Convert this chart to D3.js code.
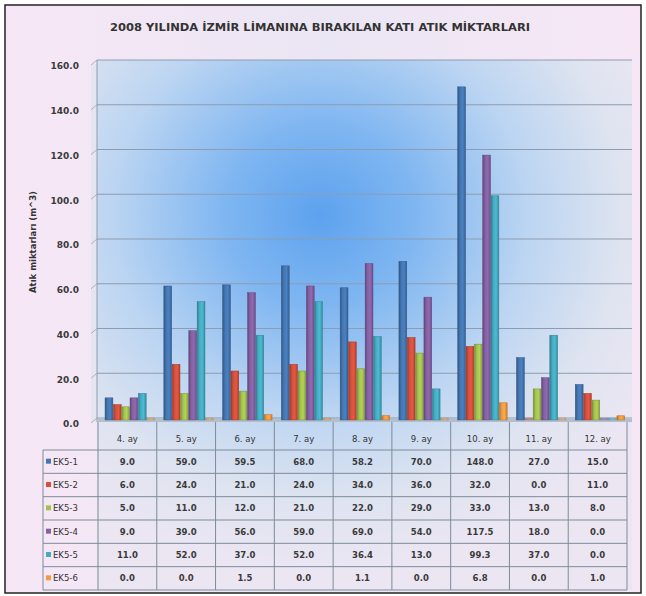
<!DOCTYPE html>
<html>
<head>
<meta charset="utf-8">
<script src="https://cdn.jsdelivr.net/npm/d3@7"></script>
<style>
  body { margin: 0; background: #fff; }
  text { font-family: 'DejaVu Sans', sans-serif; }
</style>
</head>
<body>
<svg id="chart" width="646" height="596"></svg>
<script>
const categories = ['4. ay', '5. ay', '6. ay', '7. ay', '8. ay', '9. ay', '10. ay', '11. ay', '12. ay']
const seriesNames = ['EK5-1', 'EK5-2', 'EK5-3', 'EK5-4', 'EK5-5', 'EK5-6']
const seriesColors = ['#4476b2', '#d4503c', '#a4c150', '#8560a3', '#45abc2', '#f39a42']

const ek51 = [9.0, 59.0, 59.5, 68.0, 58.2, 70.0, 148.0, 27.0, 15.0]
const ek52 = [6.0, 24.0, 21.0, 24.0, 34.0, 36.0, 32.0, 0.0, 11.0]
const ek53 = [5.0, 11.0, 12.0, 21.0, 22.0, 29.0, 33.0, 13.0, 8.0]
const ek54 = [9.0, 39.0, 56.0, 59.0, 69.0, 54.0, 117.5, 18.0, 0.0]
const ek55 = [11.0, 52.0, 37.0, 52.0, 36.4, 13.0, 99.3, 37.0, 0.0]
const ek56 = [0.0, 0.0, 1.5, 0.0, 1.1, 0.0, 6.8, 0.0, 1.0]
const seriesValues = [ek51, ek52, ek53, ek54, ek55, ek56]

const yTicks = [0, 20, 40, 60, 80, 100, 120, 140, 160]

const svg = d3.select('#chart')
const defs = svg.append('defs')
const fmt = d3.format('.1f')

// chart area background
const bgGrad = defs.append('linearGradient').attr('id', 'bg')
  .attr('x1', 0).attr('x2', 1).attr('y1', 0).attr('y2', 0)
bgGrad.append('stop').attr('offset', 0).attr('stop-color', '#f7e7f6')
bgGrad.append('stop').attr('offset', 0.5).attr('stop-color', '#ebe6f4')
bgGrad.append('stop').attr('offset', 1).attr('stop-color', '#f7e7f6')

const plotGrad = defs.append('radialGradient').attr('id', 'plotbg')
  .attr('gradientUnits', 'userSpaceOnUse')
  .attr('cx', 320).attr('cy', 215).attr('r', 380)
  .attr('gradientTransform', 'translate(320,215) scale(1,0.95) translate(-320,-215)')
plotGrad.append('stop').attr('offset', 0).attr('stop-color', '#5da2ee')
plotGrad.append('stop').attr('offset', 0.25).attr('stop-color', '#7fb6f1')
plotGrad.append('stop').attr('offset', 0.55).attr('stop-color', '#bcd5f2')
plotGrad.append('stop').attr('offset', 0.8).attr('stop-color', '#dfe4f0')
plotGrad.append('stop').attr('offset', 1).attr('stop-color', '#ece6f3')

svg.append('rect')
  .attr('x', 5).attr('y', 5).attr('width', 636).attr('height', 588)
  .attr('fill', 'url(#bg)')
  .attr('stroke', '#222').attr('stroke-width', 1.5)

const plotLeft = 97
const plotRight = 632
const plotTop = 60
const floorY = 420

const x0 = d3.scaleBand().domain(categories).range([98, 627])
const x1 = d3.scaleBand().domain(seriesNames)
  .range([x0.bandwidth() * 0.12, x0.bandwidth() * 0.97])
const y = d3.scaleLinear().domain([0, 160]).range([418, 60])

// plot wall + table background
svg.append('rect')
  .attr('x', plotLeft).attr('y', plotTop).attr('width', plotRight - plotLeft).attr('height', 530)
  .attr('fill', 'url(#plotbg)')

// left wall
svg.append('rect')
  .attr('x', 91).attr('y', plotTop + 4).attr('width', 6).attr('height', floorY - plotTop - 2)
  .attr('fill', '#dde4f0').attr('opacity', 0.7)

// gridlines
const grid = svg.append('g').attr('class', 'grid')
grid.selectAll('line.h')
  .data(yTicks)
  .enter()
  .append('line')
  .attr('class', 'h')
  .attr('x1', plotLeft).attr('x2', plotRight)
  .attr('y1', d => y(d)).attr('y2', d => y(d))
  .attr('stroke', '#8e9cb0').attr('stroke-width', 1)
grid.selectAll('line.s')
  .data(yTicks)
  .enter()
  .append('line')
  .attr('class', 's')
  .attr('x1', 91).attr('x2', plotLeft)
  .attr('y1', d => y(d) + 5).attr('y2', d => y(d))
  .attr('stroke', '#a8b4c4').attr('stroke-width', 1)

svg.append('line')
  .attr('x1', plotLeft).attr('x2', plotLeft).attr('y1', plotTop).attr('y2', floorY + 2)
  .attr('stroke', '#8e9cb0')

// floor
svg.append('rect')
  .attr('x', plotLeft).attr('y', floorY - 1).attr('width', plotRight - plotLeft).attr('height', 3)
  .attr('fill', '#b4bfcc')

// y axis labels
const yAxis = d3.axisLeft(y).tickValues(yTicks).tickFormat(fmt).tickSize(0).tickPadding(0)
const yg = svg.append('g')
  .attr('transform', 'translate(79,6)')
  .call(yAxis)
yg.select('.domain').remove()
yg.selectAll('text')
  .attr('font-family', 'DejaVu Sans, sans-serif')
  .attr('font-size', 9)
  .attr('font-weight', 'bold')
  .attr('fill', '#3a3a3a')

svg.append('text')
  .attr('transform', 'translate(36,242) rotate(-90)')
  .attr('text-anchor', 'middle')
  .attr('font-size', 8.5)
  .attr('font-weight', 'bold')
  .attr('fill', '#333')
  .text('Atık miktarları (m^3)')

// title
svg.append('text')
  .attr('x', 320).attr('y', 31)
  .attr('text-anchor', 'middle')
  .attr('font-size', 10.5)
  .attr('font-weight', 'bold')
  .attr('fill', '#333')
  .attr('textLength', 420)
  .attr('lengthAdjust', 'spacingAndGlyphs')
  .text('2008 YILINDA İZMİR LİMANINA BIRAKILAN KATI ATIK MİKTARLARI')

// bar gradients
seriesNames.forEach(function (name, i) {
  const c = d3.color(seriesColors[i])
  const g = defs.append('linearGradient').attr('id', 'bar' + i)
    .attr('x1', 0).attr('x2', 1).attr('y1', 0).attr('y2', 0)
  g.append('stop').attr('offset', 0).attr('stop-color', c.darker(0.9))
  g.append('stop').attr('offset', 0.3).attr('stop-color', c)
  g.append('stop').attr('offset', 0.65).attr('stop-color', c.brighter(0.25))
  g.append('stop').attr('offset', 1).attr('stop-color', c.darker(0.6))
})

// bars
const barData = []
seriesNames.forEach(function (name, i) {
  categories.forEach(function (cat, j) {
    barData.push({ series: name, idx: i, cat: cat, value: seriesValues[i][j] })
  })
})

svg.append('g').attr('class', 'bars')
  .selectAll('rect')
  .data(barData)
  .enter()
  .append('rect')
  .attr('x', d => x0(d.cat) + x1(d.series))
  .attr('width', x1.bandwidth() - 0.5)
  .attr('y', d => Math.min(y(d.value), floorY - 1.5))
  .attr('height', d => Math.max(floorY - y(d.value), 1.5))
  .attr('fill', d => 'url(#bar' + d.idx + ')')
  .attr('stroke', d => d3.color(seriesColors[d.idx]).darker(0.8))
  .attr('stroke-width', 0.5)
  .attr('opacity', d => d.value === 0 ? 0.5 : 1)

// data table
const tableTop = 425
const headerBottom = 450
const tableBottom = 590
const rowY = d3.scaleBand().domain(seriesNames).range([headerBottom, tableBottom])
const table = svg.append('g').attr('class', 'table')
const lineColor = '#7f8b99'

// horizontal lines
table.selectAll('line.row')
  .data(seriesNames.concat(['end']))
  .enter()
  .append('line')
  .attr('class', 'row')
  .attr('x1', 43).attr('x2', 627)
  .attr('y1', d => d === 'end' ? tableBottom : rowY(d))
  .attr('y2', d => d === 'end' ? tableBottom : rowY(d))
  .attr('stroke', lineColor)

// vertical lines
const colEdges = categories.map(c => x0(c)).concat([x0.range()[1]])
table.selectAll('line.col')
  .data(colEdges)
  .enter()
  .append('line')
  .attr('class', 'col')
  .attr('x1', d => d).attr('x2', d => d)
  .attr('y1', floorY + 2).attr('y2', tableBottom)
  .attr('stroke', lineColor)
table.append('line')
  .attr('x1', 43).attr('x2', 43).attr('y1', headerBottom).attr('y2', tableBottom)
  .attr('stroke', lineColor)

// category labels
table.selectAll('text.cat')
  .data(categories)
  .enter()
  .append('text')
  .attr('class', 'cat')
  .attr('x', d => x0(d) + x0.bandwidth() / 2)
  .attr('y', (tableTop + headerBottom) / 2 + 4)
  .attr('text-anchor', 'middle')
  .attr('font-size', 8.5)
  .attr('fill', '#333')
  .text(d => d)

// legend keys in row headers
const rowHead = table.selectAll('g.rowhead')
  .data(seriesNames)
  .enter()
  .append('g')
  .attr('class', 'rowhead')
  .attr('transform', d => 'translate(0,' + (rowY(d) + rowY.bandwidth() / 2) + ')')
rowHead.append('rect')
  .attr('x', 46).attr('y', -3).attr('width', 5).attr('height', 5)
  .attr('fill', (d, i) => seriesColors[i])
rowHead.append('text')
  .attr('x', 53).attr('y', 3)
  .attr('font-size', 8.5)
  .attr('fill', '#333')
  .text(d => d)

// values
const cellData = []
seriesNames.forEach(function (name, i) {
  categories.forEach(function (cat, j) {
    cellData.push({ series: name, cat: cat, value: seriesValues[i][j] })
  })
})
table.selectAll('text.val')
  .data(cellData)
  .enter()
  .append('text')
  .attr('class', 'val')
  .attr('x', d => x0(d.cat) + x0.bandwidth() / 2)
  .attr('y', d => rowY(d.series) + rowY.bandwidth() / 2 + 3)
  .attr('text-anchor', 'middle')
  .attr('font-size', 8.5)
  .attr('font-weight', 'bold')
  .attr('fill', '#3a3a3a')
  .text(d => fmt(d.value))
</script>
</body>
</html>
